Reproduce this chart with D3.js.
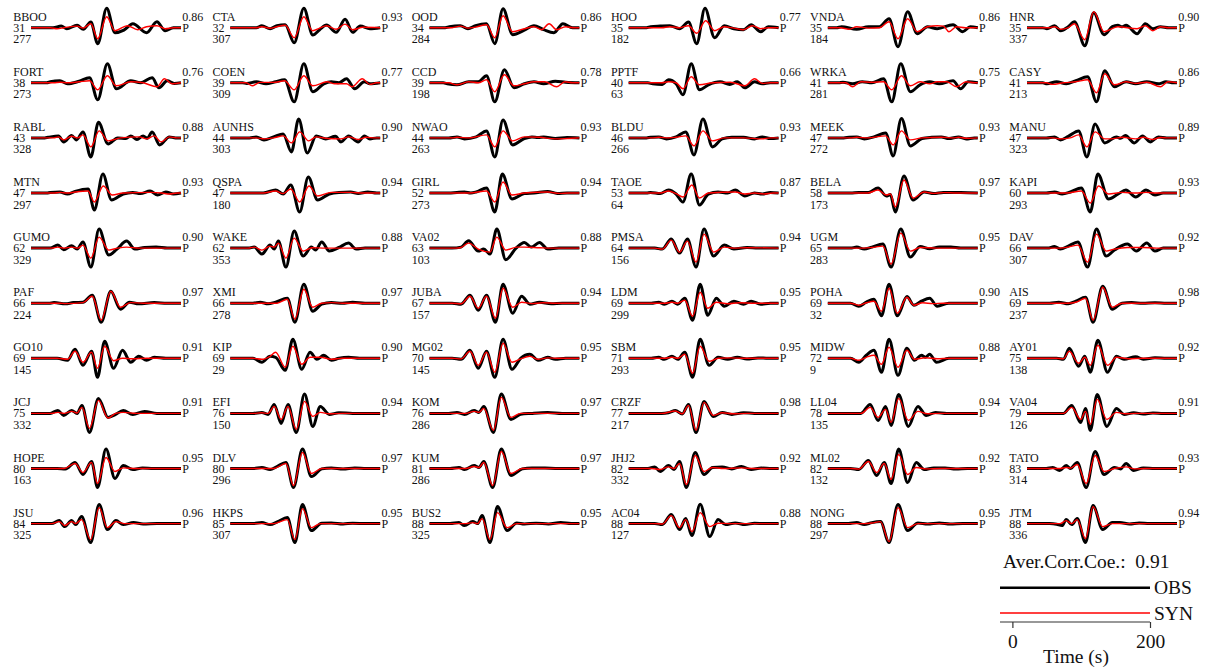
<!DOCTYPE html>
<html>
<head>
<meta charset="utf-8">
<script src="https://cdn.jsdelivr.net/npm/d3@7"></script>
<style>
  body { margin: 0; background: #fff; }
  svg { display: block; }
  text { font-family: "Liberation Serif", "Times New Roman", serif; fill: #111; }
</style>
</head>
<body>
<svg id="chart" width="1209" height="672"></svg>
<script>
// Stations, epicentral distance (deg), azimuth (deg), waveform correlation
const stations = ["BBOO","CTA","OOD","HOO","VNDA","HNR","FORT","COEN","CCD","PPTF","WRKA","CASY",
  "RABL","AUNHS","NWAO","BLDU","MEEK","MANU","MTN","QSPA","GIRL","TAOE","BELA","KAPI",
  "GUMO","WAKE","VA02","PMSA","UGM","DAV","PAF","XMI","JUBA","LDM","POHA","AIS",
  "GO10","KIP","MG02","SBM","MIDW","AY01","JCJ","EFI","KOM","CRZF","LL04","VA04",
  "HOPE","DLV","KUM","JHJ2","ML02","TATO","JSU","HKPS","BUS2","AC04","NONG","JTM"];
const distances = [31,32,34,35,35,35,38,39,39,40,41,41,43,44,44,46,47,47,47,47,52,53,58,60,
  62,62,63,64,65,66,66,66,67,69,69,69,69,69,70,71,72,75,75,76,76,77,78,79,80,80,81,82,82,83,84,85,88,88,88,88];
const azimuths = [277,307,284,182,184,337,273,309,198,63,281,213,328,303,263,266,272,323,297,180,273,64,173,293,
  329,353,103,156,283,307,224,278,157,299,32,237,145,29,145,293,9,138,332,150,286,217,135,126,
  163,296,286,332,132,314,325,307,325,127,297,336];
const corrs = ["0.86","0.93","0.86","0.77","0.86","0.90","0.76","0.77","0.78","0.66","0.75","0.86",
  "0.88","0.90","0.93","0.93","0.93","0.89","0.93","0.94","0.94","0.87","0.97","0.93",
  "0.90","0.88","0.88","0.94","0.95","0.92","0.97","0.97","0.94","0.95","0.90","0.98",
  "0.91","0.90","0.95","0.95","0.88","0.92","0.91","0.94","0.97","0.98","0.94","0.91",
  "0.95","0.97","0.97","0.92","0.92","0.93","0.96","0.95","0.95","0.88","0.95","0.94"];
const phase = "P";
const avgCorr = "0.91";
const timeDomain = [-18, 200];
const timeTicks = [0, 200];

// Observed waveforms: flat [time (s), normalized amplitude] pairs at turning points
const obsTraces = [
  [-18,0, 14,0, 26,.08, 34,-.05, 49,.12, 58,-.08, 69,.28, 79,-.8, 92,.97, 104,-.25, 117,-.12, 130,.2, 150,-.25, 165,.3, 177,-.15, 189,0, 200,0],
  [-18,0, 20,0, 28,.1, 40,-.05, 50,.1, 62,.15, 75,-.75, 89,.97, 102,-.37, 112,-.1, 122,.13, 136,-.23, 149,.42, 160,-.23, 171,.08, 185,-.05, 200,0],
  [-18,0, 5,0, 11,.05, 27,.1, 38,-.05, 49,.1, 65,.2, 77,-.8, 89,.95, 103,-.35, 120,-.12, 134,.1, 148,-.1, 163,-.25, 176,.2, 190,0, 200,0],
  [-18,0, 8,0, 14,.05, 28,.08, 42,.1, 56,-.05, 69,.28, 81,-.8, 93,.97, 107,-.5, 121,.1, 135,-.05, 149,-.1, 160,.15, 174,-.2, 185,.05, 200,0],
  [-18,0, -5,0, 2,.05, 24,-.08, 41,.05, 57,.05, 71,.45, 84,-.95, 98,.8, 112,-.3, 127,.05, 141,-.05, 164,.15, 178,-.2, 189,.05, 200,0],
  [-18,0, 5,0, 11,-.05, 22,.1, 31,-.15, 42,.05, 51,.3, 66,-.9, 79,.75, 94,-.35, 106,.05, 114,.12, 120,.05, 126,.12, 142,-.3, 154,.2, 165,-.05, 176,.05, 188,0, 200,0],
  [-18,0, 5,0, 10,.05, 24,.1, 35,-.05, 52,.08, 67,.25, 79,-.85, 93,.95, 106,-.3, 127,.1, 141,0, 158,.25, 168,-.25, 180,.1, 190,-.03, 200,0],
  [-18,0, 0,0, 6,-.03, 20,.05, 34,-.05, 48,.05, 61,.15, 75,-.95, 89,.95, 102,-.45, 118,-.05, 129,.05, 140,0, 151,.2, 163,-.3, 177,.05, 185,-.05, 200,0],
  [-18,0, 2,0, 8,-.05, 22,-.1, 39,.05, 53,.05, 65,.35, 77,-.95, 91,.65, 105,-.25, 120,-.05, 134,.05, 148,-.05, 165,.08, 180,.03, 200,0],
  [-18,0, 10,0, 17,-.05, 31,-.08, 40,.15, 51,-.05, 61,-.6, 73,.95, 85,-.35, 98,-.1, 115,.05, 129,-.08, 140,.05, 151,-.25, 165,.05, 176,-.05, 188,0, 200,0],
  [-18,0, -2,0, 4,.03, 18,-.05, 32,.05, 46,0, 63,.2, 75,-.95, 88,.95, 102,-.45, 116,-.1, 130,.05, 144,-.05, 164,.1, 175,-.3, 186,.05, 200,0],
  [-18,0, 5,0, 11,-.05, 25,.05, 39,-.05, 53,.1, 70,.3, 83,-.95, 95,.6, 109,-.2, 126,.05, 140,-.05, 156,.05, 173,-.05, 184,.05, 195,0, 200,0],
  [-18,0, 2,0, 7,.03, 22,.1, 29.5,-.2, 41,.12, 48,-.1, 57.5,.3, 69,-.95, 80,.78, 94,-.3, 108,0, 120,-.03, 127,.1, 136,-.08, 145,.1, 151,-.02, 158,.3, 169,-.35, 183,.05, 192,0, 200,0],
  [-18,0, 10,0, 20,.05, 31,-.1, 45,.05, 59,.2, 71,-.7, 81.5,.95, 94,-.75, 107,.1, 121,-.05, 135,.08, 143,-.2, 154,.1, 168,-.2, 177,.1, 185,-.05, 195,0, 200,0],
  [-18,0, 10,0, 22,.05, 33,-.05, 50,.05, 65,.35, 77,-.95, 89,.9, 103,-.35, 120,-.03, 131,.05, 140,.02, 148,.05, 165,-.03, 182,.02, 200,0],
  [-18,0, 8,0, 14,.03, 26,.05, 37,-.05, 51,.05, 65,.3, 77,-.85, 90,.95, 104,-.45, 118,-.05, 132,.03, 149,.03, 165,-.05, 176,.05, 188,-.03, 200,0],
  [-18,0, 5,0, 13,.03, 24,.05, 35,-.05, 49,.05, 66,.25, 77,-.9, 89,.97, 102,-.4, 119,-.03, 133,.03, 147,.05, 158,-.03, 172,.05, 183,-.05, 195,0, 200,0],
  [-18,0, 10,0, 22,.05, 30.6,-.1, 42,.08, 57,.35, 69,-.95, 81,.7, 95,-.25, 112,.05, 118,-.02, 125,.12, 138,-.25, 150,.1, 161,-.2, 173,.05, 185,0, 200,0],
  [-18,0, 5,0, 10,.03, 24,.05, 35,-.05, 46,.08, 65,.2, 74,-.85, 86.5,.95, 99,-.35, 116,-.05, 130,.03, 141,-.03, 155,.1, 166,-.1, 178,.05, 189,-.05, 200,0],
  [-18,0, 30,0, 48,.15, 59,-.05, 70,.4, 83,-.95, 95.5,.8, 109,-.35, 126,-.05, 140,.03, 157,.05, 168,-.02, 182,.05, 195,0, 200,0],
  [-18,0, 10,0, 22,.03, 33,.05, 42,0, 50,.05, 65,.25, 77,-.95, 88,.95, 102,-.3, 120,-.03, 134,0, 154,.08, 168,-.02, 182,0, 200,0],
  [-18,0, 8,0, 14,.03, 28,-.03, 40,.15, 51,-.05, 61,-.45, 73,.95, 85,-.6, 98,-.05, 112,.05, 126,0, 137,.15, 151,-.15, 165,0, 176,-.05, 188,.03, 200,0],
  [-18,0, 15,0, 27,.03, 41,.03, 55,.25, 67,-.15, 73,-.08, 80,-.95, 92.7,.85, 106,-.35, 122,.05, 136,-.03, 150,.03, 175,.03, 200,0],
  [-18,0, 10,0, 22,.05, 33,-.05, 45,.05, 61,.25, 74,-.95, 85,.95, 100.5,-.3, 114.5,-.05, 125.7,.15, 140,-.2, 155,.15, 168,-.1, 180,0, 200,0],
  [-18,0, 10,0, 21,.15, 29.5,-.08, 41,.12, 49,-.05, 57.5,.3, 69,-.95, 81,.95, 95,-.35, 107,-.05, 121,.35, 133,-.05, 147,.03, 164,.05, 180,0, 200,0],
  [-18,0, 8,0, 17,.05, 28,-.3, 40,.15, 46,-.05, 52,.35, 63,-.95, 75,.85, 88,-.4, 100,.05, 106,-.1, 115,.3, 126,-.15, 140,.03, 154,.25, 165,-.05, 178,0, 200,0],
  [-18,0, 15,0, 28,.05, 39,.37, 53,-.15, 61,-.05, 70,-.3, 80,.95, 93,-.58, 108,0, 120,.28, 130,.05, 142,.28, 154,-.05, 170,0, 200,0],
  [-18,0, 20,0, 31,-.05, 44,.45, 56,-.25, 67.5,.45, 80,-.95, 91.6,.95, 105.5,-.4, 121,.15, 135,-.05, 154,.03, 170,0, 200,0],
  [-18,0, 15,0, 24,.05, 35,-.05, 46,.05, 62,.2, 74,-.95, 88,.95, 102,-.45, 116,.08, 130,-.03, 144,.05, 161,.05, 175,0, 200,0],
  [-18,0, 12,0, 22,.08, 30.6,-.05, 42,.1, 56,.3, 70,-.95, 83,.95, 97,-.4, 109,-.1, 128,.2, 141,-.15, 156,.25, 168,-.15, 180,0, 200,0],
  [-18,0, 8,0, 15.5,.03, 32,-.03, 43.5,.03, 57.5,.05, 71,.4, 84,-.95, 98,.6, 112,-.3, 125,.05, 138.5,-.03, 161,.03, 180,0, 200,0],
  [-18,0, 15,0, 25.6,.05, 37,-.03, 48,.05, 65,.25, 76,-.95, 89,.95, 102,-.4, 115,-.05, 129,.03, 145,0, 160,.05, 178,0, 200,0],
  [-18,0, 15,0, 28,-.05, 41,.4, 53,-.35, 65,.4, 78,-.95, 89,.95, 103,-.5, 116,.35, 128,-.05, 142,.05, 159,-.03, 175,0, 200,0],
  [-18,0, 15,0, 25.6,.05, 34,-.05, 45,.1, 53.5,-.05, 63.6,.25, 75,-.85, 86,.95, 97,-.6, 109.5,.25, 121,-.15, 135,.1, 149,-.05, 160,.1, 174,-.05, 188,0, 200,0],
  [-18,0, 15,0, 27,-.15, 38,.05, 49,.2, 60,-.63, 71,.95, 83,-.63, 97,.33, 107,-.1, 118,.1, 130,.25, 141,-.15, 158,0, 200,0],
  [-18,0, 15,0, 28,.05, 42,-.03, 53,.1, 67,.3, 78,-.95, 92,.85, 106,-.3, 120,0, 134,.03, 150,0, 168,.02, 185,0, 200,0],
  [-18,0, 20,0, 35,-.1, 46,.45, 57.5,-.35, 70,.35, 78.7,-.95, 89,.85, 102,-.5, 115,.4, 127,-.2, 138.5,.1, 150,-.1, 161,.05, 178,0, 200,0],
  [-18,0, 15,0, 28,-.2, 40,.1, 48,.05, 62,-.6, 73,.95, 86,-.55, 98,.3, 108,-.05, 118,.15, 129,-.1, 140,0, 154,.05, 170,0, 200,0],
  [-18,0, 15,0, 28,-.05, 41,.4, 53,-.5, 65,.35, 77,-.95, 89,.95, 102,-.55, 114.5,0, 128,.2, 140,-.1, 154,.05, 165,-.05, 180,0, 200,0],
  [-18,0, 15,0, 25.6,.05, 34,-.05, 45,.1, 53.5,-.05, 63.6,.3, 75,-.95, 86,.95, 99,-.35, 112,.05, 126,-.05, 140,.05, 154,-.03, 170,.02, 185,0, 200,0],
  [-18,0, 15,0, 27,-.2, 38,.15, 49,.4, 60,-.7, 71,.95, 84,-.85, 97,.5, 108,-.1, 118,.15, 124,.05, 130,.2, 140,-.2, 158,0, 200,0],
  [-18,0, 25,0, 35,-.05, 43.5,.5, 57,-.4, 66,.1, 74,-.7, 85,.9, 99,-.7, 112,.1, 123,-.05, 140,.08, 151,-.05, 168,.03, 185,0, 200,0],
  [-18,0, 10,0, 21,.15, 29.5,-.1, 41,.15, 49,0, 56,.4, 67,-.95, 80,.75, 94,-.2, 105,-.05, 116,.15, 130,-.05, 147,.1, 165,0, 200,0],
  [-18,0, 15,0, 28,.05, 37,-.05, 46,.45, 56,-.5, 66,.45, 78,-.95, 90,.97, 102,-.65, 113,.35, 126,-.05, 140,.03, 160,0, 200,0],
  [-18,0, 10,0, 22,.05, 33,-.05, 47,.15, 54,.05, 61,.35, 75,-.95, 86.5,.97, 100.5,-.3, 114.5,-.05, 130,0, 154,.05, 175,0, 200,0],
  [-18,0, 30,0, 40,.03, 50,.15, 60,-.03, 69,.45, 80,-.95, 91.6,.6, 105,-.15, 118,.05, 132,-.05, 149,.03, 165,0, 200,0],
  [-18,0, 30,0, 43.5,.45, 55,-.35, 66,.35, 74,-.6, 85,.95, 99,-.65, 113,.35, 125,-.1, 138.5,.05, 155,0, 200,0],
  [-18,0, 35,0, 47,.4, 60,-.45, 67,.25, 74,-.85, 84,.95, 98,-.65, 112,.25, 123,-.05, 137,.03, 151,-.03, 165,.02, 180,0, 200,0],
  [-18,0, 20,0, 32,-.03, 46,.3, 57.5,-.3, 70,.35, 78.7,-.95, 91,.97, 104,-.5, 116,.15, 130,-.05, 144,.03, 160,0, 200,0],
  [-18,0, 15,0, 28,.05, 40,-.05, 50,.1, 63,.3, 74,-.95, 87,.97, 100,-.4, 115,-.02, 129,.03, 146,-.02, 163,.03, 180,0, 200,0],
  [-18,0, 12,0, 25,.05, 33,-.05, 47,.15, 54,.05, 61,.35, 74,-.95, 86.5,.97, 100.5,-.35, 117,-.02, 131,.03, 150,.02, 170,0, 200,0],
  [-18,0, 10,0, 20,.08, 28,-.15, 40,.15, 48,-.05, 56,.35, 66,-.95, 78.7,.8, 91.6,-.3, 104,.05, 118,.08, 132,-.02, 146,.1, 160,-.05, 175,.02, 190,0, 200,0],
  [-18,0, 15,0, 27,-.05, 41,.4, 53,-.35, 64,.3, 74,-.75, 85,.97, 98,-.7, 110.6,.3, 122,-.05, 136,.03, 152.5,.03, 168,-.02, 185,0, 200,0],
  [-18,0, 10,0, 19.5,.05, 29.5,-.1, 39,.15, 45,0, 55,.3, 68,-.95, 81,.85, 94,-.3, 109,.05, 118,-.02, 126,.25, 137,-.1, 151,.03, 168,0, 200,0],
  [-18,0, 12,0, 23,.15, 31,-.15, 41,.15, 47,-.05, 55.6,.35, 68.7,-.95, 81,.95, 93,-.3, 105.5,.15, 116,-.05, 131,.05, 145,-.02, 165,0, 200,0],
  [-18,0, 15,0, 28,.05, 40,-.05, 51,.1, 65,.3, 76,-.95, 87,.95, 100,-.35, 115,.02, 129,.03, 146,-.02, 160,.02, 180,0, 200,0],
  [-18,0, 12,0, 25,.05, 33,-.1, 45,.1, 52,0, 58.6,.4, 70,-.95, 81,.85, 95,-.35, 109,.03, 120,-.02, 137,.02, 155,-.02, 173,.05, 188,0, 200,0],
  [-18,0, 20,0, 31,-.05, 44,.45, 56,-.3, 65,.25, 74,-.6, 86,.97, 100,-.65, 112,.2, 123,-.05, 137,.03, 151,-.05, 165,.02, 180,0, 200,0],
  [-18,0, 12,0, 24,.05, 35,-.05, 46,.05, 58.6,.1, 71,-.95, 84,.95, 98,-.35, 113,.03, 127,-.02, 144,.03, 160,-.02, 178,0, 200,0],
  [-18,0, 15,0, 25,-.03, 33,-.1, 39,.2, 47,-.05, 55,.25, 67,-.95, 78,.9, 92,-.3, 106,.05, 117,.05, 131,-.02, 145,.03, 160,0, 200,0]
];

// Synthetic waveforms, same layout
const synTraces = [
  [-18,0, 10,0, 20,-.05, 30,0, 49,.08, 58,-.02, 69,.2, 79,-.55, 92,.55, 104,-.15, 122,.1, 137,-.1, 150,.05, 165,.1, 177,-.05, 189,0, 200,0],
  [-18,0, 20,0, 28,.05, 40,-.03, 50,.05, 62,.12, 75,-.5, 89,.55, 102,-.15, 112,-.02, 122,.1, 136,-.08, 149,.18, 160,-.1, 175,.02, 200,0],
  [-18,0, 15,0, 27,.08, 38,-.02, 49,.03, 65,.15, 77,-.5, 89,.6, 103,-.2, 120,-.05, 134,.05, 145,-.1, 156,.2, 167,-.1, 180,.05, 192,0, 200,0],
  [-18,0, 30,0, 42,.05, 56,0, 69,.1, 81,-.28, 94,.35, 107,-.15, 121,.05, 135,-.02, 149,-.1, 162,.1, 174,-.05, 185,0, 200,0],
  [-18,0, 0,0, 13,-.08, 24,.05, 41,-.02, 57,0, 71,.3, 84,-.55, 98,.45, 112,-.2, 127,.05, 141,.1, 150,.08, 158,-.2, 169,.05, 182,0, 200,0],
  [-18,0, 15,0, 22,.05, 31,-.08, 42,0, 51,.2, 66,-.6, 79,.8, 94,-.2, 114,.05, 142,-.05, 154,.1, 165,-.15, 176,.05, 188,0, 200,0],
  [-18,0, 15,0, 24,.03, 35,0, 52,.05, 67,.1, 79,-.35, 93,.35, 106,-.15, 127,.05, 145,0, 165,-.2, 176,.2, 187,-.05, 200,0],
  [-18,0, 5,0, 14,-.15, 25,.02, 34,.02, 48,.03, 61,.1, 75,-.35, 89,.35, 102,-.15, 123,.05, 134,-.05, 151,-.05, 159,-.2, 174,.2, 185,-.08, 195,0, 200,0],
  [-18,0, 10,0, 22,-.1, 39,.05, 53,0, 65,.15, 77,-.45, 91,.4, 105,-.15, 120,-.05, 134,.05, 150,.05, 167,-.2, 179,.05, 190,0, 200,0],
  [-18,0, 30,0, 40,.05, 51,0, 61,-.3, 73,.3, 85,-.1, 104,0, 130,.03, 151,-.15, 165,.2, 176,-.03, 188,0, 200,0],
  [-18,0, 8,0, 18,-.2, 30,.05, 46,.03, 63,.05, 75,-.35, 89,.35, 102,-.15, 116,.05, 130,-.05, 141,.05, 155,.05, 169,-.2, 183,.05, 195,0, 200,0],
  [-18,0, 10,0, 19,-.08, 35,0, 53,.05, 70,.15, 83,-.5, 95,.45, 109,-.1, 126,.05, 140,-.03, 156,.03, 176,-.2, 187,.05, 200,0],
  [-18,0, 15,0, 22,.05, 29.5,-.1, 41,.08, 50,0, 57.5,.15, 69,-.45, 81,.35, 94,-.15, 112,0, 139,.05, 150,-.05, 161,.1, 171,-.2, 183,.05, 194,0, 200,0],
  [-18,0, 20,0, 31,-.05, 45,0, 59,.1, 71,-.25, 83,.3, 96,-.15, 107,.05, 124,-.03, 143,-.05, 154,.05, 168,-.08, 180,.03, 192,0, 200,0],
  [-18,0, 15,0, 22,.03, 40,0, 65,.15, 77,-.45, 89,.35, 103,-.15, 120,.05, 142,.03, 165,-.05, 182,-.03, 200,0],
  [-18,0, 15,0, 26,.03, 40,0, 51,.03, 65,.1, 77,-.4, 90,.35, 104,-.15, 121,0, 149,0, 176,-.05, 188,0, 200,0],
  [-18,0, 15,0, 24,.03, 40,0, 66,.1, 77,-.35, 89,.35, 102,-.1, 119,0, 147,.03, 165,0, 172,.03, 183,-.02, 200,0],
  [-18,0, 20,0, 30.6,-.05, 45,0, 57,.15, 69,-.45, 81,.3, 95,-.05, 104,-.05, 121,.03, 140,-.05, 151,.03, 164,-.08, 176,.02, 188,0, 200,0],
  [-18,0, 15,0, 24,.03, 35,0, 46,.05, 65,.1, 74,-.45, 87,.35, 100,-.1, 116,0, 155,.03, 172,0, 183,-.05, 195,0, 200,0],
  [-18,0, 30,0, 48,.1, 59,-.03, 70,.2, 83,-.45, 96.5,.35, 109,-.15, 129,.03, 157,.03, 175,0, 200,0],
  [-18,0, 40,0, 65,.1, 77,-.45, 89,.55, 102,-.1, 120,0, 154,.05, 171,-.02, 185,0, 200,0],
  [-18,0, 28,0, 40,.1, 51,-.03, 61,-.2, 74,.4, 85,-.25, 98,0, 137,.05, 151,-.05, 165,0, 179,-.05, 192,0, 200,0],
  [-18,0, 40,0, 55,.15, 67,-.1, 73,-.05, 80,-.7, 92.7,.65, 106,-.25, 122,.05, 136,-.02, 150,.02, 170,0, 200,0],
  [-18,0, 40,0, 61,.1, 74,-.5, 86,.35, 100.5,-.05, 120,.03, 140,0, 155,.03, 170,0, 200,0],
  [-18,0, 12,0, 21,.05, 30,0, 41,.05, 50,0, 57.5,.15, 69,-.5, 81,.55, 95,-.1, 108,0, 121,.05, 139,0, 200,0],
  [-18,0, 8,0, 17,.05, 28,-.1, 40,.1, 46,.05, 52,.25, 63,-.5, 75,.5, 88,-.15, 101,.02, 120,0, 200,0],
  [-18,0, 20,0, 28,.03, 39,.25, 53,-.05, 70,-.2, 80,.55, 93,-.1, 109,.05, 120,.05, 142,.02, 160,0, 200,0],
  [-18,0, 20,0, 31,-.05, 44,.4, 56,-.2, 67.5,.35, 80,-.7, 91.6,.7, 105.5,-.2, 121,.05, 135,0, 154,.02, 200,0],
  [-18,0, 35,0, 46,.03, 62,.1, 74,-.8, 88,.75, 102,-.15, 116,.03, 140,0, 200,0],
  [-18,0, 30,0, 42,.05, 56,.15, 70,-.7, 83,.7, 97,-.15, 109,-.05, 128,.03, 150,.03, 170,0, 200,0],
  [-18,0, 25,0, 32,-.02, 57.5,.03, 71,.35, 84,-.85, 98,.6, 112,-.2, 127,.03, 145,0, 200,0],
  [-18,0, 50,0, 65,.2, 76,-.8, 89,.7, 102,-.2, 115,0, 129,.03, 145,0, 200,0],
  [-18,0, 15,0, 28,-.03, 41,.35, 53,-.25, 65,.35, 78,-.75, 89,.75, 103,-.2, 116,.05, 131,-.02, 147,.02, 165,0, 200,0],
  [-18,0, 35,0, 45,.05, 53.5,0, 63.6,.15, 75,-.65, 86,.55, 97,-.25, 109.5,.05, 126,-.03, 143,.02, 165,0, 200,0],
  [-18,0, 15,0, 27,-.1, 38,.02, 49,.1, 60,-.4, 71,.75, 83,-.5, 97,.3, 107,-.1, 120,.02, 135,-.02, 150,0, 200,0],
  [-18,0, 40,0, 53,.05, 67,.25, 78,-.85, 92,.8, 106,-.2, 120,0, 200,0],
  [-18,0, 20,0, 35,-.05, 46,.35, 57.5,-.2, 70,.3, 78.7,-.5, 89,.6, 102,-.12, 115,0, 130,-.02, 150,0, 200,0],
  [-18,0, 15,0, 28,-.05, 40,.1, 48,.3, 62,-.45, 73,.6, 86,-.3, 98,.05, 113,.05, 129,-.05, 145,0, 200,0],
  [-18,0, 15,0, 28,-.03, 41,.35, 53,-.35, 65,.3, 77,-.7, 89,.75, 102,-.2, 114.5,-.03, 128,.1, 140,-.05, 154,.02, 170,0, 200,0],
  [-18,0, 35,0, 45,.05, 53.5,0, 63.6,.2, 75,-.75, 86,.6, 99,-.15, 112,0, 130,.02, 150,0, 200,0],
  [-18,0, 15,0, 27,-.1, 38,.05, 49,.15, 60,-.3, 71,.55, 84,-.45, 97,.4, 108,-.05, 124,.03, 141,-.02, 160,0, 200,0],
  [-18,0, 25,0, 35,-.02, 43.5,.35, 57,-.25, 66,.05, 74,-.35, 85,.65, 99,-.35, 112,.05, 130,-.02, 150,0, 200,0],
  [-18,0, 12,0, 21,.05, 30,0, 41,.1, 49,.02, 56,.3, 67,-.75, 80,.65, 94,-.23, 105,0, 116,.05, 135,0, 200,0],
  [-18,0, 15,0, 28,.03, 37,0, 46,.35, 56,-.3, 66,.35, 78,-.8, 90,.6, 102,-.15, 113,.05, 126,-.02, 145,0, 200,0],
  [-18,0, 35,0, 47,.1, 54,.05, 61,.25, 75,-.85, 86.5,.8, 100.5,-.2, 114.5,0, 200,0],
  [-18,0, 30,0, 50,.12, 60,-.02, 69,.4, 80,-.85, 91.6,.55, 105,-.1, 118,.03, 134,-.02, 155,0, 200,0],
  [-18,0, 30,0, 43.5,.3, 55,-.2, 66,.2, 74,-.45, 85,.75, 99,-.35, 113,.1, 127,-.02, 145,0, 200,0],
  [-18,0, 35,0, 47,.3, 60,-.3, 67,.1, 74,-.55, 84,.7, 98,-.3, 112,.05, 125,-.02, 140,0, 200,0],
  [-18,0, 30,0, 46,.25, 57.5,-.2, 70,.3, 78.7,-.75, 91,.55, 104,-.15, 116,.03, 135,0, 200,0],
  [-18,0, 45,0, 63,.25, 74,-.85, 87,.8, 100,-.25, 115,0, 200,0],
  [-18,0, 35,0, 47,.1, 54,.05, 61,.3, 74,-.85, 86.5,.85, 100.5,-.25, 117,0, 200,0],
  [-18,0, 15,0, 28,-.05, 40,.08, 48,0, 56,.25, 66,-.8, 78.7,.65, 91.6,-.15, 104,.05, 120,0, 146,.03, 165,0, 200,0],
  [-18,0, 15,0, 27,-.03, 41,.35, 53,-.2, 64,.25, 74,-.55, 85,.7, 98,-.3, 110.6,.05, 125,-.02, 145,0, 200,0],
  [-18,0, 30,0, 39,.05, 45,.02, 55,.2, 68,-.75, 81,.65, 94,-.15, 109,0, 126,.08, 138,-.02, 155,0, 200,0],
  [-18,0, 12,0, 23,.1, 31,-.1, 41,.1, 47,0, 55.6,.2, 68.7,-.8, 81,.8, 93,-.2, 105.5,.1, 118,0, 200,0],
  [-18,0, 45,0, 65,.2, 76,-.8, 87,.75, 100,-.2, 113,0, 200,0],
  [-18,0, 35,0, 45,.05, 52,0, 58.6,.25, 70,-.8, 81,.55, 95,-.2, 109,0, 200,0],
  [-18,0, 20,0, 31,-.02, 44,.4, 56,-.2, 65,.2, 74,-.4, 86,.55, 100,-.15, 112,.02, 130,0, 200,0],
  [-18,0, 35,0, 46,.03, 58.6,.1, 71,-.9, 84,.8, 98,-.2, 113,0, 200,0],
  [-18,0, 30,0, 39,.15, 47,0, 55,.2, 67,-.75, 78,.85, 92,-.15, 106,0, 200,0]
];

// ---- layout ----
const svg = d3.select("#chart");
const ncol = 6;
const colStep = 199.2, rowStep = 55.1;
const left0 = 13.3, base0 = 27.7;
const traceOffset = 17.7, traceWidth = 150;
const fontSize = 12;

const x = d3.scaleLinear().domain(timeDomain).range([0, traceWidth]);
const y = d3.scaleLinear().domain([-1, 1]).range([20, -20]);
const toPairs = arr => d3.range(0, arr.length, 2).map(i => [arr[i], arr[i + 1]]);
const line = d3.line()
  .x(d => x(d[0]))
  .y(d => y(d[1]))
  .curve(d3.curveMonotoneX);

const panels = svg.append("g").selectAll("g.panel")
  .data(stations.map((name, i) => ({
    name, i,
    dist: distances[i], az: azimuths[i], cc: corrs[i],
    obs: toPairs(obsTraces[i]), syn: toPairs(synTraces[i])
  })))
  .join("g")
  .attr("class", "panel")
  .attr("transform", d => `translate(${left0 + (d.i % ncol) * colStep},${base0 + Math.floor(d.i / ncol) * rowStep})`);

panels.append("text").attr("x", 0).attr("y", -7).attr("font-size", fontSize).text(d => d.name);
panels.append("text").attr("x", 0).attr("y", 4).attr("font-size", fontSize).text(d => d.dist);
panels.append("text").attr("x", 0).attr("y", 15.6).attr("font-size", fontSize).text(d => d.az);
panels.append("text").attr("x", traceOffset + traceWidth + 1.2).attr("y", -7).attr("font-size", fontSize).text(d => d.cc);
panels.append("text").attr("x", traceOffset + traceWidth + 1.2).attr("y", 4).attr("font-size", fontSize).text(phase);

const traces = panels.append("g").attr("transform", `translate(${traceOffset},0)`);
traces.append("path")
  .attr("d", d => line(d.obs))
  .attr("fill", "none").attr("stroke", "#000").attr("stroke-width", 3)
  .attr("stroke-linejoin", "round").attr("stroke-linecap", "butt");
traces.append("path")
  .attr("d", d => line(d.syn))
  .attr("fill", "none").attr("stroke", "#f00").attr("stroke-width", 1.4)
  .attr("stroke-linejoin", "round");

// ---- legend and time scale ----
const legend = svg.append("g");
const lx = d3.scaleLinear().domain(timeDomain).range([1000, 1150]);
const legendFont = 19.5;

legend.append("text").attr("x", 1003).attr("y", 568).attr("font-size", legendFont)
  .style("white-space", "pre").text(`Aver.Corr.Coe.:  ${avgCorr}`);

legend.append("line").attr("x1", lx(timeDomain[0])).attr("x2", lx(timeDomain[1]))
  .attr("y1", 587.7).attr("y2", 587.7).attr("stroke", "#000").attr("stroke-width", 2.6);
legend.append("text").attr("x", 1154).attr("y", 594).attr("font-size", legendFont).text("OBS");

legend.append("line").attr("x1", lx(timeDomain[0])).attr("x2", lx(timeDomain[1]))
  .attr("y1", 613).attr("y2", 613).attr("stroke", "#f00").attr("stroke-width", 1.3);
legend.append("text").attr("x", 1154).attr("y", 619.5).attr("font-size", legendFont).text("SYN");

const axis = d3.axisBottom(lx).tickValues(timeTicks).tickSize(6).tickSizeOuter(0).tickFormat(d3.format("d"));
const axisG = legend.append("g").attr("transform", "translate(0,622)").call(axis);
axisG.select(".domain").attr("stroke", "#333").attr("stroke-width", 1.2)
  .attr("d", `M${lx(timeDomain[0])},0H${lx(timeDomain[1])}`);
axisG.selectAll(".tick line").attr("stroke", "#333").attr("stroke-width", 1.2);
axisG.selectAll(".tick text").attr("font-size", legendFont).attr("fill", "#111")
  .attr("font-family", "Liberation Serif, serif").attr("dy", "0.85em");

legend.append("text").attr("x", 1076).attr("y", 663).attr("font-size", legendFont)
  .attr("text-anchor", "middle").text("Time (s)");
</script>
</body>
</html>
